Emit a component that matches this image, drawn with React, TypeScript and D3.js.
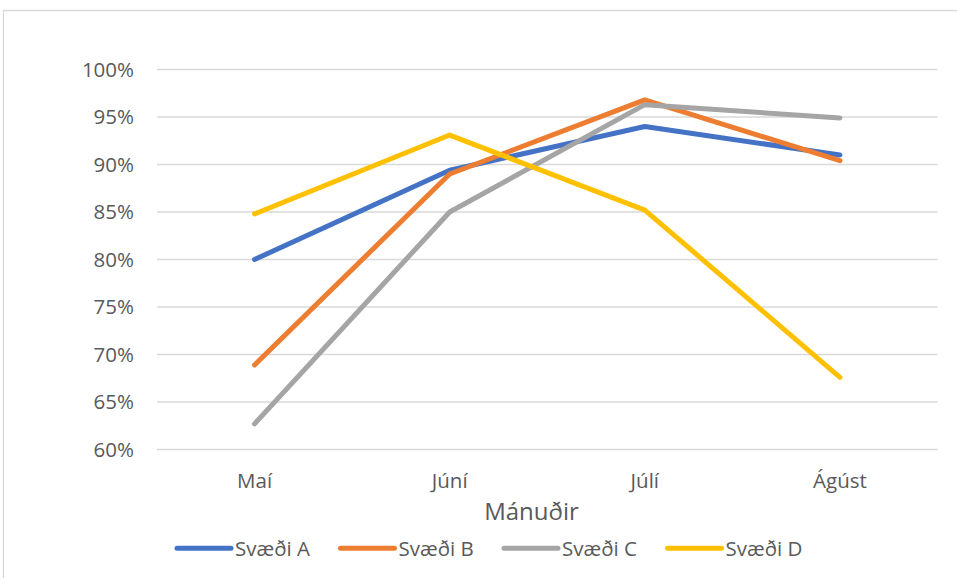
import React from "react";
import * as d3 from "d3";

const months = ["Maí", "Júní", "Júlí", "Ágúst"];
const seriesNames = ["Svæði A", "Svæði B", "Svæði C", "Svæði D"];
const svaediA = [0.800, 0.894, 0.940, 0.910];
const svaediB = [0.689, 0.890, 0.968, 0.904];
const svaediC = [0.627, 0.850, 0.963, 0.949];
const svaediD = [0.848, 0.931, 0.852, 0.676];
const yTicks = [0.6, 0.65, 0.7, 0.75, 0.8, 0.85, 0.9, 0.95, 1.0];
const colors = ["#4472C4", "#ED7D31", "#A5A5A5", "#FFC000"];
const axisTitle = "Mánuðir";

const W = 957;
const H = 578;
const FONT = "'Open Sans', 'Liberation Sans', sans-serif";

export default function App() {
  const series = [svaediA, svaediB, svaediC, svaediD];
  const x = d3.scalePoint<string>().domain(months).range([157, 937.5]).padding(0.5);
  const y = d3.scaleLinear().domain([0.6, 1.0]).range([449.5, 69.5]);
  const line = d3
    .line<number>()
    .x((_, i) => x(months[i]) as number)
    .y((d) => y(d));
  const fmt = d3.format(".0%");
  const legendX = d3.scaleLinear().domain([0, 1]).range([177, 340.5]);

  return (
    <svg
      width={W}
      height={H}
      style={{ position: "absolute", left: 0, top: 0, background: "#fff" }}
      fontFamily={FONT}
    >
      <rect x={0} y={0} width={W} height={H} fill="#fff" />
      <path d={`M3.5,${H} V10.5 H${W}`} fill="none" stroke="#D9D9D9" strokeWidth={1.3} />
      {yTicks.map((t) => (
        <g key={t}>
          <line x1={157} x2={937.5} y1={y(t)} y2={y(t)} stroke="#D9D9D9" strokeWidth={1.3} />
          <text x={134} y={y(t) + 7.3} textAnchor="end" fontSize={20.5} fill="#595959">
            {fmt(t)}
          </text>
        </g>
      ))}
      {months.map((m) => (
        <text key={m} x={x(m)} y={488.3} textAnchor="middle" fontSize={20.5} fill="#595959">
          {m}
        </text>
      ))}
      <text x={531.5} y={520} textAnchor="middle" fontSize={24} fill="#595959">
        {axisTitle}
      </text>
      {series.map((s, i) => (
        <path
          key={seriesNames[i]}
          d={line(s) || ""}
          fill="none"
          stroke={colors[i]}
          strokeWidth={5}
          strokeLinecap="round"
          strokeLinejoin="round"
        />
      ))}
      {seriesNames.map((n, i) => {
        const lx = legendX(i);
        return (
          <g key={n}>
            <line x1={lx} x2={lx + 54} y1={548.3} y2={548.3} stroke={colors[i]} strokeWidth={5} strokeLinecap="round" />
            <text x={lx + 58} y={555.7} fontSize={20.5} fill="#595959">
              {n}
            </text>
          </g>
        );
      })}
    </svg>
  );
}
